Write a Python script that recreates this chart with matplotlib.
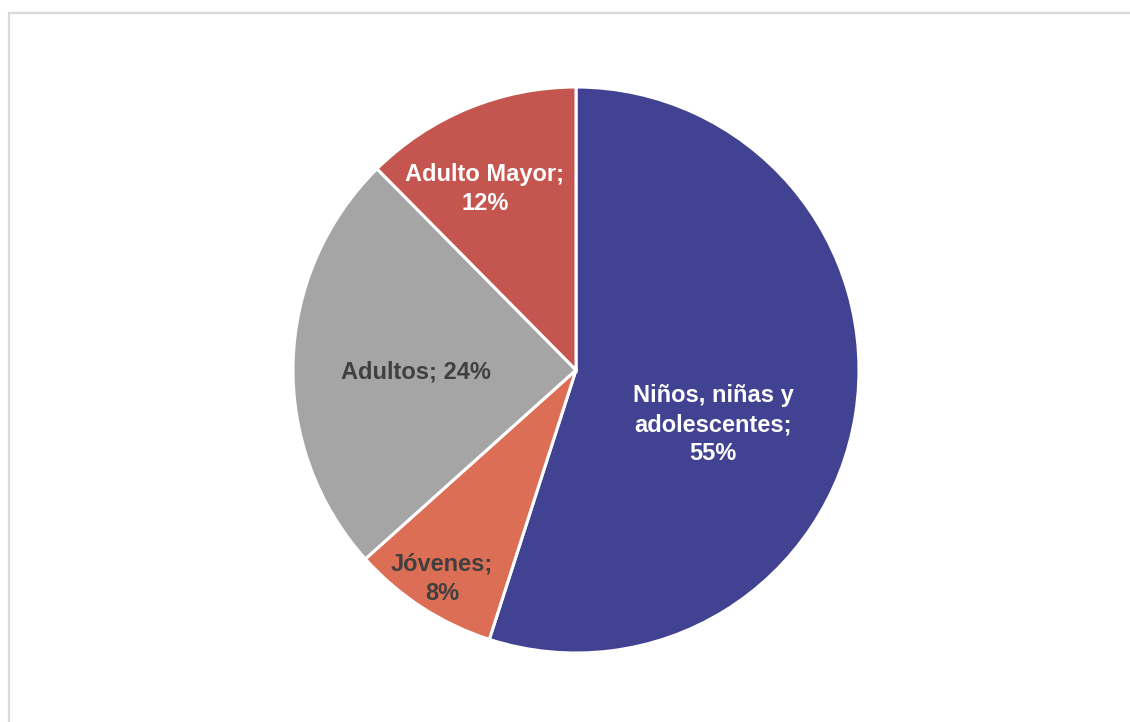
import matplotlib.pyplot as plt
from matplotlib.patches import Rectangle

# data (clockwise from top)
labels = ['Niños, niñas y\nadolescentes', 'Jóvenes', 'Adultos', 'Adulto Mayor']
values = [54.9, 8.4, 24.2, 12.4]
shown = ['55%', '8%', '24%', '12%']
colors = ['#414392', '#DC6E55', '#A5A5A5', '#C5554F']
text_colors = ['white', '#404040', '#404040', 'white']
# label positions in units of the radius
label_pos = [(0.485, -0.193), (-0.473, -0.738), (-0.565, -0.008), (-0.322, 0.64)]
label_fmt = ['{};\n{}', '{};\n{}', '{}; {}', '{};\n{}']

W, H = 1130, 722
fig = plt.figure(figsize=(W / 100, H / 100), dpi=100)
plt.rcParams['font.family'] = ['Liberation Sans', 'DejaVu Sans']

# light frame around the chart area
fig.patches.append(Rectangle((9 / W, -0.1), 1.2, 1 - 12.5 / H + 0.1,
                             transform=fig.transFigure, fill=False,
                             edgecolor='#D9D9D9', linewidth=1.6))

cx, cy, r = 576, 370, 283
ax = fig.add_axes([(cx - r) / W, (H - cy - r) / H, 2 * r / W, 2 * r / H])
ax.pie(values, colors=colors, startangle=90, counterclock=False, radius=1,
       wedgeprops=dict(edgecolor='white', linewidth=2.2))
ax.set_xlim(-1, 1)
ax.set_ylim(-1, 1)
ax.set_aspect('equal')
ax.axis('off')

for lab, pct, fmt, pos, tc in zip(labels, shown, label_fmt, label_pos, text_colors):
    ax.text(pos[0], pos[1], fmt.format(lab, pct), ha='center', va='center',
            color=tc, fontsize=17, fontweight='bold', linespacing=1.32)

fig.savefig('out.png', dpi=100)
